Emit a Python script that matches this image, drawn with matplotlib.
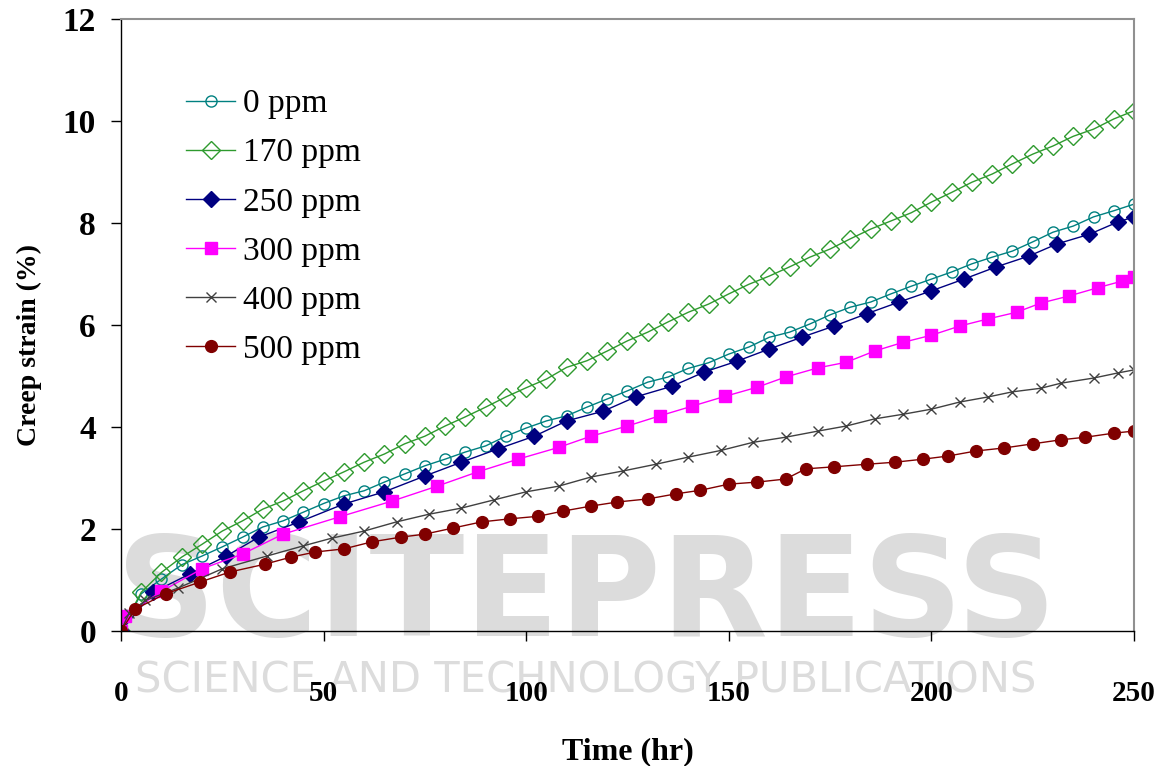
import matplotlib
matplotlib.use("Agg")
import matplotlib.pyplot as plt

# creep strain (%) vs time (hr)
t_0 = [0, 5, 10, 15, 20, 25, 30, 35, 40, 45, 50, 55, 60, 65, 70, 75, 80, 85, 90, 95,
       100, 105, 110, 115, 120, 125, 130, 135, 140, 145, 150, 155, 160, 165, 170,
       175, 180, 185, 190, 195, 200, 205, 210, 215, 220, 225, 230, 235, 240, 245, 250]
s_0 = [0, 0.73, 1.02, 1.30, 1.47, 1.65, 1.84, 2.04, 2.16, 2.33, 2.50, 2.65, 2.75, 2.92,
       3.08, 3.24, 3.37, 3.51, 3.63, 3.82, 3.98, 4.12, 4.22, 4.39, 4.55, 4.71, 4.88,
       4.98, 5.15, 5.26, 5.43, 5.57, 5.76, 5.86, 6.02, 6.20, 6.35, 6.45, 6.61, 6.76,
       6.90, 7.04, 7.20, 7.33, 7.45, 7.63, 7.82, 7.94, 8.12, 8.24, 8.37]

t_170 = t_0
s_170 = [0, 0.76, 1.15, 1.45, 1.70, 1.96, 2.16, 2.39, 2.55, 2.75, 2.94, 3.12, 3.31, 3.47,
         3.67, 3.82, 4.02, 4.20, 4.39, 4.59, 4.77, 4.94, 5.17, 5.30, 5.49, 5.69, 5.86,
         6.06, 6.25, 6.41, 6.61, 6.80, 6.96, 7.14, 7.33, 7.49, 7.69, 7.88, 8.04, 8.20,
         8.41, 8.60, 8.80, 8.96, 9.16, 9.35, 9.51, 9.70, 9.84, 10.04, 10.20]

t_250 = [0, 8, 17, 26, 34, 44, 55, 65, 75, 84, 93, 102, 110, 119, 127, 136, 144, 152,
         160, 168, 176, 184, 192, 200, 208, 216, 224, 231, 239, 246, 250]
s_250 = [0, 0.76, 1.12, 1.47, 1.84, 2.14, 2.49, 2.73, 3.04, 3.31, 3.57, 3.82, 4.12, 4.31,
         4.59, 4.80, 5.08, 5.29, 5.53, 5.76, 5.98, 6.22, 6.45, 6.67, 6.90, 7.14, 7.35,
         7.59, 7.78, 8.02, 8.12]

t_300 = [0, 1, 10, 20, 30, 40, 54, 67, 78, 88, 98, 108, 116, 125, 133, 141, 149, 157,
         164, 172, 179, 186, 193, 200, 207, 214, 221, 227, 234, 241, 247, 250]
s_300 = [0, 0.30, 0.78, 1.22, 1.51, 1.90, 2.24, 2.55, 2.84, 3.12, 3.37, 3.60, 3.82, 4.02,
         4.22, 4.41, 4.60, 4.78, 4.98, 5.16, 5.27, 5.49, 5.66, 5.80, 5.98, 6.12, 6.25,
         6.43, 6.57, 6.73, 6.86, 6.94]

t_400 = [0, 2, 6, 14, 25, 36, 45, 52, 60, 68, 76, 84, 92, 100, 108, 116, 124, 132, 140,
         148, 156, 164, 172, 179, 186, 193, 200, 207, 214, 220, 227, 232, 240, 246, 250]
s_400 = [0, 0.35, 0.60, 0.84, 1.22, 1.47, 1.67, 1.82, 1.96, 2.14, 2.29, 2.41, 2.57, 2.73,
         2.84, 3.02, 3.14, 3.27, 3.41, 3.54, 3.70, 3.80, 3.92, 4.02, 4.16, 4.25, 4.35,
         4.49, 4.59, 4.69, 4.76, 4.86, 4.96, 5.06, 5.12]

t_500 = [0, 3.5, 11, 19.5, 27, 35.5, 42, 48, 55, 62, 69, 75, 82, 89, 96, 103, 109, 116,
         122.5, 130, 137, 143, 150, 157, 164, 169, 176, 184, 191, 198, 204, 211, 218,
         225, 232, 238, 245, 250]
s_500 = [0, 0.43, 0.73, 0.96, 1.16, 1.31, 1.45, 1.55, 1.61, 1.75, 1.84, 1.90, 2.02, 2.14,
         2.20, 2.25, 2.35, 2.45, 2.53, 2.59, 2.69, 2.76, 2.88, 2.92, 2.98, 3.18, 3.22,
         3.27, 3.31, 3.37, 3.43, 3.53, 3.59, 3.67, 3.75, 3.80, 3.88, 3.92]

labels = ["0 ppm", "170 ppm", "250 ppm", "300 ppm", "400 ppm", "500 ppm"]

serif = ["Liberation Serif", "DejaVu Serif"]

fig = plt.figure(figsize=(11.72, 7.66), dpi=100)

# faint publisher watermark, drawn under everything else
fig.text(0.5, 0.22, "SCITEPRESS", fontsize=100, fontweight="bold", color="#dcdcdc",
         ha="center", va="center", family="DejaVu Sans", zorder=-5)
fig.text(0.5, 0.111, "SCIENCE AND TECHNOLOGY PUBLICATIONS", fontsize=30, color="#dcdcdc",
         ha="center", va="center", family="DejaVu Sans", zorder=-5)

ax = fig.add_axes([0.1032, 0.1762, 0.8644, 0.799])
ax.patch.set_visible(False)

ax.plot(t_0, s_0, color="#008080", lw=1, marker="o", ms=8, mfc="none", mec="#008080",
        mew=1, label=labels[0])
ax.plot(t_170, s_170, color="#2e9a2e", lw=1, marker="D", ms=9, mfc="none", mec="#2e9a2e",
        mew=1, label=labels[1])
ax.plot(t_250, s_250, color="#000080", lw=1, marker="D", ms=8, label=labels[2])
ax.plot(t_300, s_300, color="#ff00ff", lw=1, marker="s", ms=8.5, label=labels[3])
ax.plot(t_400, s_400, color="#404040", lw=1, marker="x", ms=7, mew=1, label=labels[4])
ax.plot(t_500, s_500, color="#800000", lw=1, marker="o", ms=8.5, label=labels[5])

ax.set_xlim(0, 250)
ax.set_ylim(0, 12)
ax.set_xticks([0, 50, 100, 150, 200, 250])
ax.set_yticks([0, 2, 4, 6, 8, 10, 12])

for side in ["top", "right"]:
    ax.spines[side].set_color("#909090")
    ax.spines[side].set_linewidth(1.5)
for side in ["left", "bottom"]:
    ax.spines[side].set_color("black")
    ax.spines[side].set_linewidth(1)

ax.tick_params(axis="both", direction="out", length=7, width=1, color="black")
ax.tick_params(axis="y", pad=11)
ax.tick_params(axis="x", pad=28)
for lab in ax.get_xticklabels():
    lab.set_family(serif)
    lab.set_fontweight("bold")
    lab.set_fontsize(21)
for lab in ax.get_yticklabels():
    lab.set_family(serif)
    lab.set_fontweight("bold")
    lab.set_fontsize(24)

ax.set_xlabel("Time (hr)", family=serif, fontweight="bold", fontsize=23, labelpad=22)
ax.set_ylabel("Creep strain (%)", family=serif, fontweight="bold", fontsize=20)
ax.yaxis.set_label_coords(-0.078, 0.467)

ax.legend(loc="upper left", bbox_to_anchor=(0.035, 0.935), frameon=False,
          prop={"family": serif, "size": 24}, handlelength=1.45, handletextpad=0.25,
          labelspacing=0.56)

fig.savefig("out.png", dpi=100)
